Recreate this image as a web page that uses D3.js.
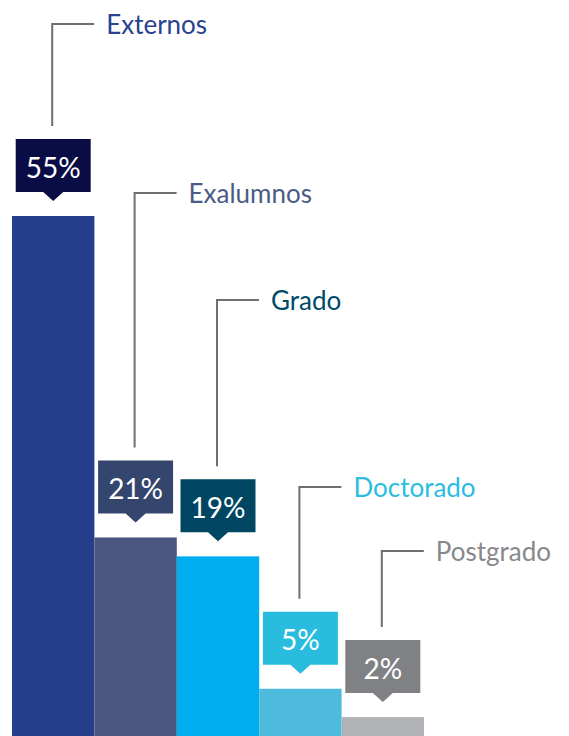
<!DOCTYPE html>
<html>
<head>
<meta charset="utf-8">
<script src="https://cdn.jsdelivr.net/npm/d3@7"></script>
<style>
  html, body { margin: 0; padding: 0; background: #fff; }
  svg { display: block; font-family: Lato, "Open Sans", sans-serif; }
</style>
</head>
<body>
<svg id="chart" width="569" height="736"></svg>
<script>
// data
var categories = ["Externos", "Exalumnos", "Grado", "Doctorado", "Postgrado"];
var shares = [55, 21, 19, 5, 2];
var barColors = ["#243e8b", "#4a587f", "#00aeef", "#4fbbdc", "#b1b2b5"];
var boxColors = ["#0a0d45", "#34466e", "#004663", "#29bcdf", "#808184"];
var nameColors = ["#2a4290", "#4c5b86", "#004a68", "#2bbde0", "#87888c"];
// y of the horizontal part of each leader line
var calloutY = [24, 193, 300, 487, 551];

var svg = d3.select("#chart"),
    width = +svg.attr("width"),
    height = +svg.attr("height");

var x = d3.scaleBand()
    .domain(categories)
    .range([12, 424])
    .padding(0);

var y = d3.scaleLinear()
    .domain([0, 55])
    .range([height, 216]);

var rows = categories.map(function (c, i) {
    return { name: c, value: shares[i], i: i };
});

// bars
svg.append("g").selectAll("rect")
    .data(rows)
    .enter().append("rect")
    .attr("x", function (d) { return x(d.name); })
    .attr("y", function (d) { return y(d.value); })
    .attr("width", x.bandwidth())
    .attr("height", function (d) { return height - y(d.value); })
    .attr("fill", function (d) { return barColors[d.i]; });

var boxW = 75, boxH = 53, tipGap = 15, tipH = 9, tipHalf = 10;

function cx(d) { return x(d.name) + x.bandwidth() / 2; }
function boxBottom(d) { return y(d.value) - tipGap - tipH; }
function boxTop(d) { return boxBottom(d) - boxH; }

// value callouts
var tags = svg.append("g").selectAll("g")
    .data(rows)
    .enter().append("g");

tags.append("path")
    .attr("d", function (d) {
        var c = cx(d), b = boxBottom(d), t = boxTop(d);
        return "M" + (c - boxW / 2) + "," + t +
            "H" + (c + boxW / 2) +
            "V" + b +
            "H" + (c + tipHalf) +
            "L" + c + "," + (b + tipH) +
            "L" + (c - tipHalf) + "," + b +
            "H" + (c - boxW / 2) + "Z";
    })
    .attr("fill", function (d) { return boxColors[d.i]; });

tags.append("text")
    .attr("x", cx)
    .attr("y", function (d) { return boxTop(d) + boxH / 2 + 1; })
    .attr("text-anchor", "middle")
    .attr("dominant-baseline", "central")
    .attr("fill", "#fff")
    .style("font-size", "28px")
    .text(function (d) { return d.value + "%"; });

// leader lines + names
var leaders = svg.append("g").selectAll("g")
    .data(rows)
    .enter().append("g");

leaders.append("path")
    .attr("d", function (d) {
        var c = cx(d) - 1;
        return "M" + c + "," + (boxTop(d) - 13) +
            "V" + calloutY[d.i] +
            "H" + (c + 42);
    })
    .attr("fill", "none")
    .attr("stroke", "#6f6f6f")
    .attr("stroke-width", 2);

leaders.append("text")
    .attr("x", function (d) { return cx(d) + 53; })
    .attr("y", function (d) { return calloutY[d.i]; })
    .attr("dominant-baseline", "central")
    .attr("fill", function (d) { return nameColors[d.i]; })
    .style("font-size", "26px")
    .text(function (d) { return d.name; });
</script>
</body>
</html>
